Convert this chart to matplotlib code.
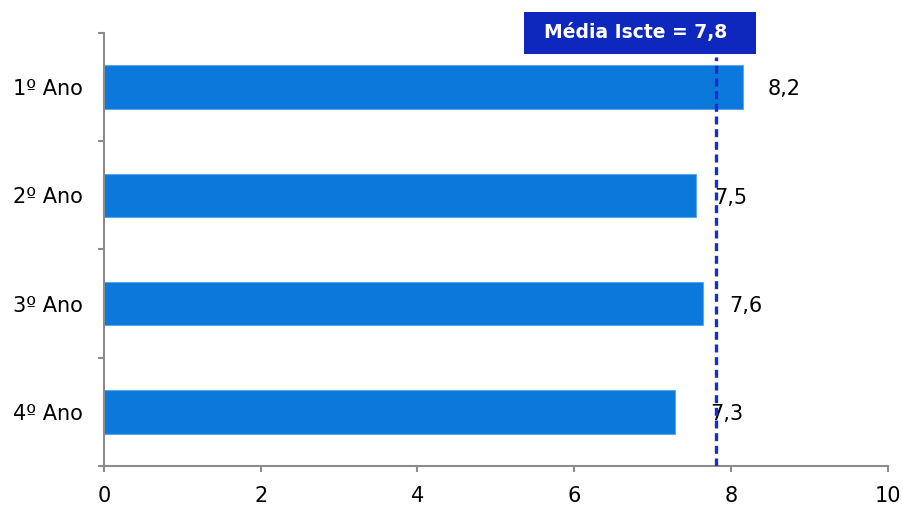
import numpy as np
import matplotlib
matplotlib.use('Agg')
import matplotlib.pyplot as plt
from matplotlib.patches import Rectangle

# chart data
categories = ['1º Ano', '2º Ano', '3º Ano', '4º Ano']
values = [8.15, 7.55, 7.64, 7.28]
value_labels = ['8,2', '7,5', '7,6', '7,3']
media_iscte = 7.81
media_label = 'Média Iscte = 7,8'

# how far right of each bar end its label sits (data units)
label_offsets = [0.32, 0.24, 0.34, 0.45]

plt.rcParams['font.family'] = ['DejaVu Sans']

fig = plt.figure(figsize=(9.04, 5.05), dpi=100)
ax = fig.add_axes([0.115, 0.0772, 0.867, 0.8575])

y = np.arange(len(categories))
ax.barh(y, values, height=0.4, color='#0B78DC', edgecolor='#5EA6EA', linewidth=0.8, zorder=2)

# value labels next to each bar
for yi, v, lab, off in zip(y, values, value_labels, label_offsets):
    ax.text(v + off, yi + 0.02, lab, ha='left', va='center', fontsize=15, color='black', zorder=3)

ax.set_ylim(len(categories) - 0.5, -0.5)
ax.set_xlim(0, 10)
ax.set_xticks(np.arange(0, 11, 2))
ax.set_yticks(y)
ax.set_yticklabels(categories)
ax.set_yticks(np.arange(-0.5, len(categories), 1), minor=True)

grey = '#8C8C8C'
for s in ['top', 'right']:
    ax.spines[s].set_visible(False)
for s in ['left', 'bottom']:
    ax.spines[s].set_color(grey)
    ax.spines[s].set_linewidth(1.5)

ax.tick_params(axis='y', which='major', length=0, pad=15, labelsize=15)
ax.tick_params(axis='y', which='minor', length=4.5, width=1.5, color=grey)
ax.tick_params(axis='x', which='major', length=4, width=1.5, color=grey, pad=10.5, labelsize=15)

# average line (drawn over the value labels)
ax.axvline(media_iscte, ymin=0, ymax=0.945, color='#1530C8', linewidth=2.4,
           dashes=(2.4, 1.4), zorder=4)

# label box for the average
ax.add_patch(Rectangle((0.536, 0.9515), 0.296, 0.097, transform=ax.transAxes,
                       facecolor='#0E28BE', edgecolor='none', clip_on=False, zorder=5))
ax.text(0.678, 1.0, media_label, transform=ax.transAxes, ha='center', va='center',
        fontsize=13.5, fontweight='bold', color='white', zorder=6)

fig.savefig('out.png', dpi=100)
